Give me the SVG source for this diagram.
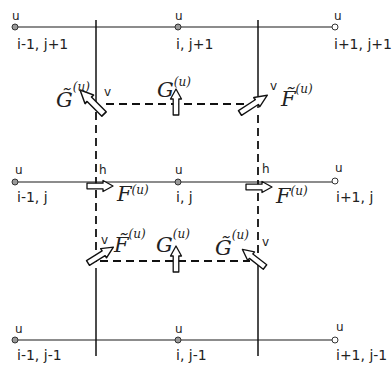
<svg xmlns="http://www.w3.org/2000/svg" xmlns:xlink="http://www.w3.org/1999/xlink" width="392" height="369" viewBox="0 0 392 369">
<style>
.grid{stroke:#666;stroke-width:1.3;fill:none}
.vert{stroke:#111;stroke-width:1.5;fill:none}
.dash{stroke:#111;stroke-width:1.8;fill:none;stroke-dasharray:8 5}
.node{fill:#999;stroke:#333;stroke-width:1}
.lbl{font-family:"DejaVu Sans",sans-serif;font-size:14px;fill:#222}
.u{font-family:"DejaVu Sans",sans-serif;font-size:12px;fill:#222}
.hv{font-family:"DejaVu Sans",sans-serif;font-size:12px;fill:#222}
.m{font-family:"DejaVu Serif","Liberation Serif",serif;font-style:italic;font-size:21px;fill:#222}
.sup{font-family:"DejaVu Serif","Liberation Serif",serif;font-style:italic;font-size:12px;fill:#222}
.arr{fill:#fff;stroke:#111;stroke-width:1.3;stroke-linejoin:round}
</style>
<defs>
<path id="arr" class="arr" d="M0,-2.8 L16,-2.8 L16,-5.5 L26,0 L16,5.5 L16,2.8 L0,2.8 Z"/>
</defs>
<g id="connectors">
<line class="grid" x1="15" y1="27" x2="335" y2="27"/>
<line class="grid" x1="15" y1="182" x2="335" y2="182"/>
<line class="grid" x1="15" y1="340" x2="335" y2="340"/>
<line class="vert" x1="96" y1="20" x2="96" y2="105"/>
<line class="vert" x1="96" y1="268" x2="96" y2="356"/>
<line class="vert" x1="258" y1="20" x2="258" y2="108"/>
<line class="vert" x1="258" y1="265" x2="258" y2="356"/>
<line class="dash" x1="96" y1="112" x2="96" y2="262"/>
<line class="dash" x1="258" y1="115" x2="258" y2="258"/>
<line class="dash" x1="106" y1="104" x2="250" y2="104"/>
<line class="dash" x1="100" y1="261" x2="250" y2="261"/>
</g>
<g id="n-im1-jp1"><circle class="node" cx="15" cy="27" r="3"/><text class="u" x="12" y="20">u</text><text class="lbl" x="17" y="49">i-1, j+1</text></g>
<g id="n-i-jp1"><circle class="node" cx="178" cy="27" r="3"/><text class="u" x="175" y="20">u</text><text class="lbl" x="176" y="49">i, j+1</text></g>
<g id="n-ip1-jp1"><circle class="node" cx="335" cy="27" r="3" style="fill:#fff"/><text class="u" x="334" y="20">u</text><text class="lbl" x="334" y="49">i+1, j+1</text></g>
<g id="n-im1-j"><circle class="node" cx="15" cy="182" r="3"/><text class="u" x="15" y="174">u</text><text class="lbl" x="17" y="202">i-1, j</text></g>
<g id="n-i-j"><circle class="node" cx="178" cy="182" r="3"/><text class="u" x="175" y="174">u</text><text class="lbl" x="176" y="202">i, j</text></g>
<g id="n-ip1-j"><circle class="node" cx="335" cy="181" r="3" style="fill:#fff"/><text class="u" x="335" y="172">u</text><text class="lbl" x="336" y="202">i+1, j</text></g>
<g id="n-im1-jm1"><circle class="node" cx="15" cy="340" r="3"/><text class="u" x="15" y="333">u</text><text class="lbl" x="17" y="360">i-1, j-1</text></g>
<g id="n-i-jm1"><circle class="node" cx="178" cy="340" r="3"/><text class="u" x="175" y="333">u</text><text class="lbl" x="176" y="360">i, j-1</text></g>
<g id="n-ip1-jm1"><circle class="node" cx="335" cy="340" r="3" style="fill:#fff"/><text class="u" x="336" y="331">u</text><text class="lbl" x="336" y="360">i+1, j-1</text></g>
<g id="flux-tl"><use xlink:href="#arr" transform="translate(104,114) rotate(-135) scale(1.3,1.1)"/><text class="m" x="56" y="107">G&#x303;<tspan class="sup" dy="-16">(u)</tspan></text><text class="hv" x="104" y="96">v</text></g>
<g id="flux-tm"><use xlink:href="#arr" transform="translate(176,115) rotate(-90)"/><text class="m" x="157" y="97">G<tspan class="sup" dy="-11">(u)</tspan></text></g>
<g id="flux-tr"><use xlink:href="#arr" transform="translate(240,113) rotate(-33) scale(1.25,1)"/><text class="m" x="281" y="106">F&#x303;<tspan class="sup" dy="-13">(u)</tspan></text><text class="hv" x="270" y="90">v</text></g>
<g id="flux-ml"><use xlink:href="#arr" transform="translate(87,186)"/><text class="m" x="117" y="201">F<tspan class="sup" dy="-7">(u)</tspan></text><text class="hv" x="99" y="174">h</text></g>
<g id="flux-mr"><use xlink:href="#arr" transform="translate(246,187)"/><text class="m" x="276" y="203">F<tspan class="sup" dy="-8">(u)</tspan></text><text class="hv" x="262" y="173">h</text></g>
<g id="flux-bl"><use xlink:href="#arr" transform="translate(88,263) rotate(-32) scale(1.15,1)"/><text class="m" x="114" y="252">F&#x303;<tspan class="sup" dy="-14">(u)</tspan></text><text class="hv" x="101" y="244">v</text></g>
<g id="flux-bm"><use xlink:href="#arr" transform="translate(176,272) rotate(-90)"/><text class="m" x="156" y="252">G<tspan class="sup" dy="-14">(u)</tspan></text></g>
<g id="flux-br"><use xlink:href="#arr" transform="translate(265,267) rotate(-142) scale(1.1,1)"/><text class="m" x="215" y="255">G&#x303;<tspan class="sup" dy="-16">(u)</tspan></text><text class="hv" x="262" y="246">v</text></g>
</svg>
